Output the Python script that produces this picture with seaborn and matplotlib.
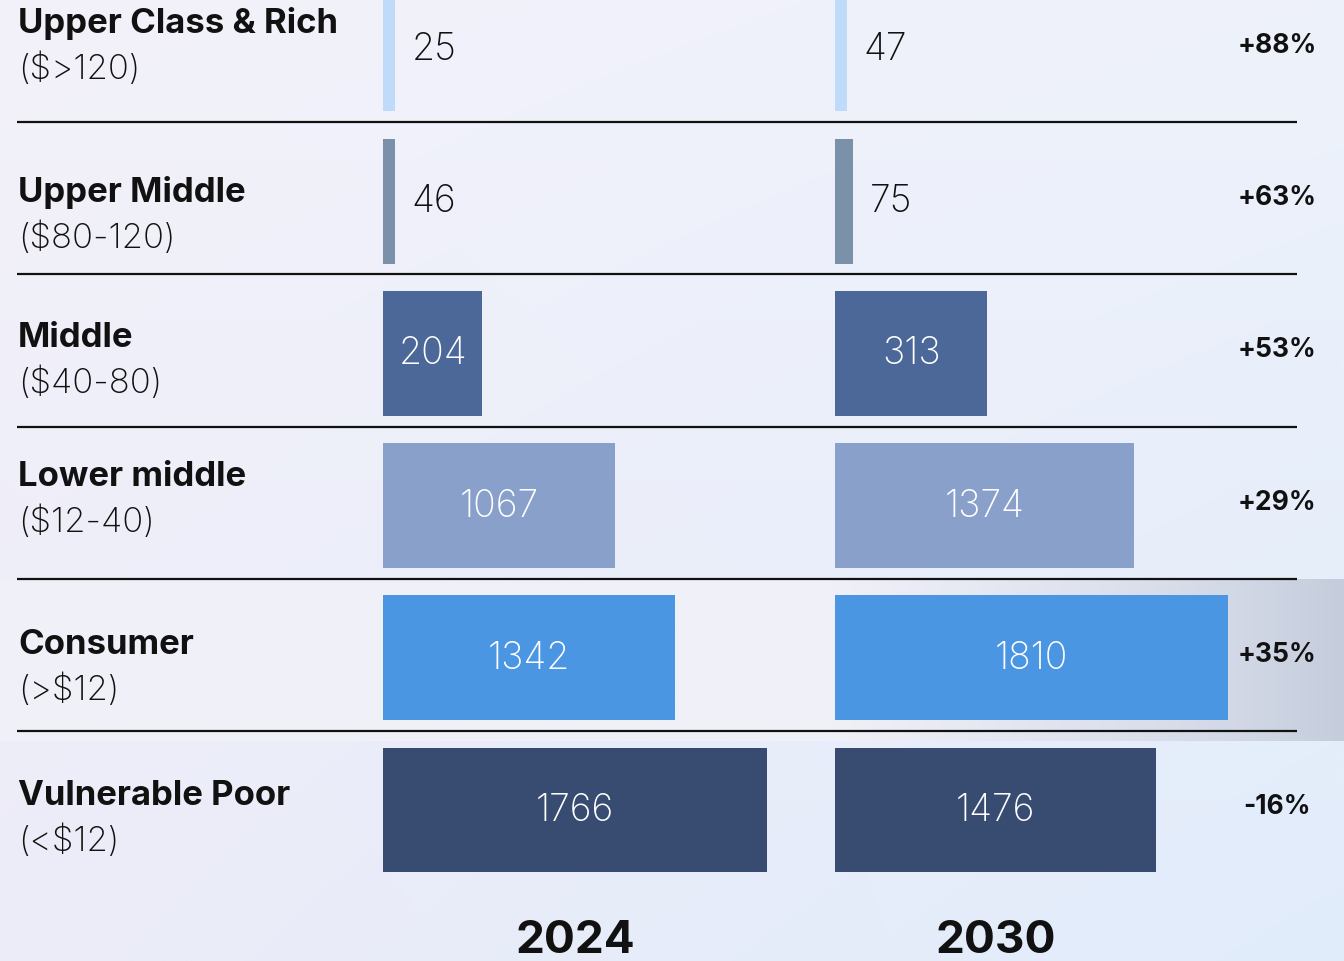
import numpy as np
import pandas as pd
import matplotlib
matplotlib.use("Agg")
import matplotlib.pyplot as plt
import seaborn as sns

# ---------------- data ----------------
categories = ["Upper Class & Rich", "Upper Middle", "Middle", "Lower middle", "Consumer", "Vulnerable Poor"]
ranges = ["($>120)", "($80-120)", "($40-80)", "($12-40)", "(>$12)", "(<$12)"]
values_2024 = [25, 46, 204, 1067, 1342, 1766]
values_2030 = [47, 75, 313, 1374, 1810, 1476]
changes = ["+88%", "+63%", "+53%", "+29%", "+35%", "-16%"]
years = ["2024", "2030"]

# ---------------- style ----------------
bar_colors = ["#c0dafa", "#7b91aa", "#4b6899", "#89a0cb", "#4a96e3", "#384c72"]
emphasis = [1.1, 1.1, 2.24, 1.0, 1.0, 1.0]   # visual scaling used in the original graphic
min_width = 55
label_shift = [-8, 9, 2, -12, 4, 3]
W, H = 1344, 962
row0, row_step = 50.0, 152.2
units_per_px = 4.6

sns.set_theme(style="white")
plt.rcParams["font.family"] = ["Inter", "DejaVu Sans"]

fig = plt.figure(figsize=(W / 100, H / 100), dpi=100)

# background gradient
bg = fig.add_axes([0, 0, 1, 1])
yy, xx = np.mgrid[0:1:200j, 0:1:300j]
TL = np.array([243, 242, 250]); TR = np.array([238, 242, 251])
BL = np.array([236, 236, 248]); BR = np.array([225, 236, 251])
img = ((1 - yy)[..., None] * ((1 - xx)[..., None] * TL + xx[..., None] * TR)
       + yy[..., None] * ((1 - xx)[..., None] * BL + xx[..., None] * BR)) / 255
bg.imshow(img, extent=(0, W, H, 0), aspect="auto", interpolation="bilinear", zorder=0)

# highlighted consumer band
band_x = np.linspace(0, 1, 300)
stops_x = [0, 0.62, 0.82, 0.92, 1.0]
stops_c = np.array([[240, 241, 248], [240, 240, 248], [222, 226, 238], [210, 216, 230], [197, 205, 220]]) / 255
band = np.stack([np.interp(band_x, stops_x, stops_c[:, k]) for k in range(3)], axis=-1)[None, :, :]
bg.imshow(band, extent=(0, W, 742, 580), aspect="auto", interpolation="bilinear", zorder=1)
bg.set_xlim(0, W)
bg.set_ylim(H, 0)
bg.axis("off")

# separators
for i in range(len(categories) - 1):
    yline = row0 + row_step * (i + 0.5) - 3
    bg.plot([17, 1297], [yline, yline], color="#111111", lw=1.6, zorder=2, solid_capstyle="butt")

# row labels
for i, (cat, rng) in enumerate(zip(categories, ranges)):
    c = row0 + row_step * i + label_shift[i]
    bg.text(18, c - 9, cat, fontsize=25, fontweight="bold", color="#111111",
            va="baseline", ha="left", parse_math=False, zorder=3)
    bg.text(18, c + 37, rng, fontsize=25, fontweight="light", color="#111111",
            va="baseline", ha="left", parse_math=False, zorder=3)
    bg.text(1277, row0 + row_step * i - 4, changes[i], fontsize=19, fontweight="bold",
            color="#111111", va="center", ha="center", parse_math=False, zorder=3)

# bars
ylim = ((H - row0) / row_step, (0 - row0) / row_step)
for values, left_px, year_x, year in zip([values_2024, values_2030], [383, 835], [575, 996], years):
    ax_w = 440
    ax = fig.add_axes([left_px / W, 0, ax_w / W, 1])
    ax.patch.set_alpha(0)
    df = pd.DataFrame({
        "category": categories,
        "value": values,
        "shown": np.maximum(np.array(values) * np.array(emphasis), min_width),
    })
    sns.barplot(data=df, x="shown", y="category", hue="category", palette=bar_colors,
                orient="h", width=0.82, saturation=1, legend=False, ax=ax, zorder=2,
                linewidth=0, edgecolor="none")
    ax.set_xlim(0, ax_w * units_per_px)
    ax.set_ylim(*ylim)
    ax.axis("off")
    for i, (v, s) in enumerate(zip(df["value"], df["shown"])):
        if v < 100:
            ax.annotate(f"{v}", (s, i), xytext=(12, 0), textcoords="offset points",
                        ha="left", va="center", fontsize=27, fontweight="light", color="#111111")
        else:
            ax.text(s / 2, i, f"{v}", ha="center", va="center", fontsize=27,
                    fontweight="light", color="white")
    bg.text(year_x, 953, year, fontsize=33, fontweight="bold", color="#111111",
            ha="center", va="baseline", zorder=3)

fig.savefig("out.png", dpi=100)
